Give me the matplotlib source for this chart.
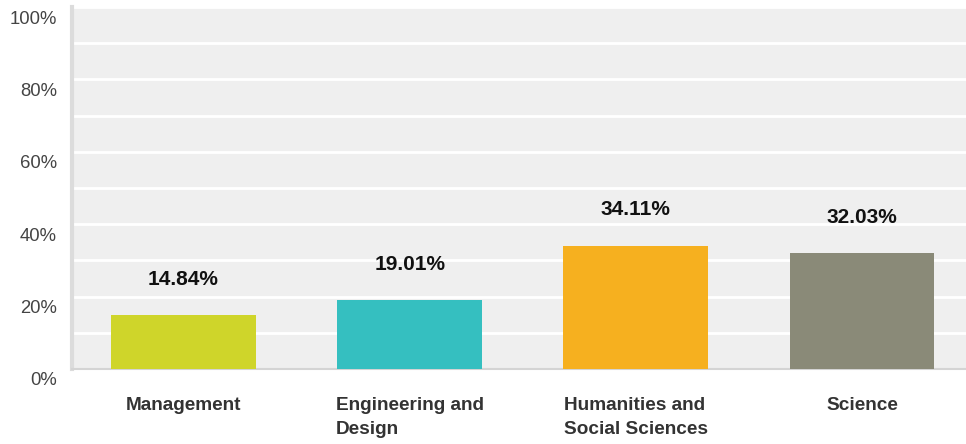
import matplotlib.pyplot as plt
from matplotlib.transforms import offset_copy

categories = ['Management', 'Engineering and\nDesign', 'Humanities and\nSocial Sciences', 'Science']
shares = [14.84, 19.01, 34.11, 32.03]
colors = ['#cfd52a', '#35bfc0', '#f6b01f', '#8a8a78']
y_ticks = [0, 20, 40, 60, 80, 100]

plt.rcParams['font.family'] = ['Liberation Sans', 'DejaVu Sans']

fig = plt.figure(figsize=(9.66, 4.44), dpi=100)
ax = fig.add_axes([0.0745, 0.169, 0.9255, 0.815])
ax.set_facecolor('#efefef')

x = list(range(len(categories)))
ax.bar(x, shares, width=0.64, color=colors, zorder=3)

for xi, v in zip(x, shares):
    ax.text(xi, v + 7.2, f'{v:.2f}%', ha='center', va='bottom', fontsize=15,
            fontweight='bold', color='#111111', zorder=4)

ax.set_xlim(-0.493, 3.46)
ax.set_ylim(0, 100)

# white grid every 10%
for g in range(10, 101, 10):
    ax.axhline(g, color='white', lw=2, zorder=1)

# y labels sit a little below their grid lines
ax.set_yticks([])
ylab_tr = offset_copy(ax.get_yaxis_transform(), fig=fig, x=-15, y=-12, units='dots')
for t in y_ticks:
    ax.text(0, t, f'{t}%', transform=ylab_tr, ha='right', va='center',
            fontsize=13.3, color='#444444', clip_on=False)

ax.set_xticks(x)
ax.set_xticklabels(categories, fontsize=13.7, fontweight='bold', color='#333333',
                   multialignment='left', linespacing=1.55)
ax.tick_params(axis='x', length=0, pad=20)

for s in ['top', 'right']:
    ax.spines[s].set_visible(False)
ax.spines['left'].set_color('#dcdcdc')
ax.spines['left'].set_linewidth(3)
ax.spines['bottom'].set_color('#d4d4d4')
ax.spines['bottom'].set_linewidth(1.5)

fig.savefig('out.png', dpi=100)
